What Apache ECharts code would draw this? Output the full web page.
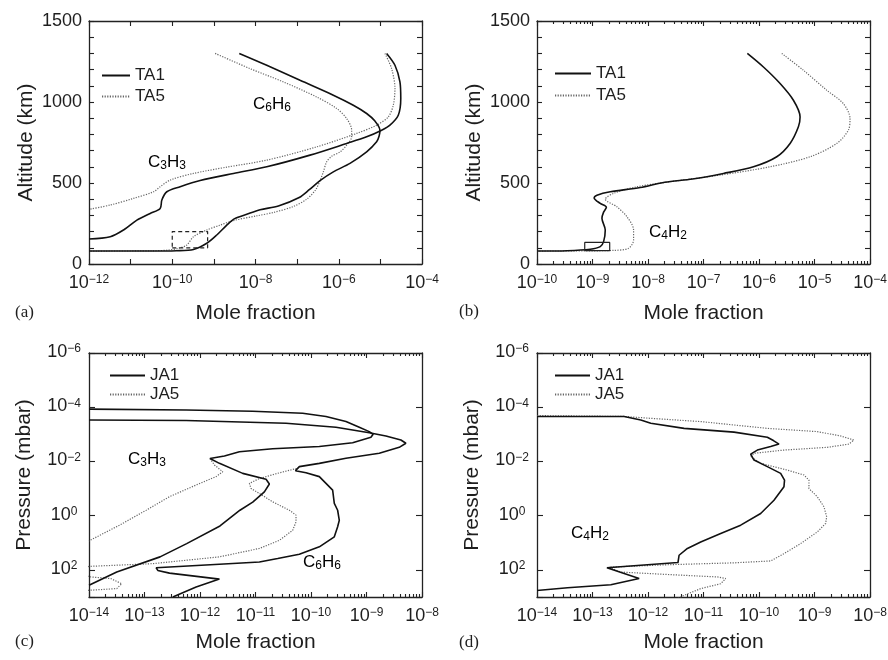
<!DOCTYPE html>
<html>
<head>
<meta charset="utf-8">
<script src="https://cdn.jsdelivr.net/npm/echarts@6/dist/echarts.min.js"></script>
<style>html,body{margin:0;background:#fff}#main{width:888px;height:660px}</style>
</head>
<body>
<div id="main"></div>
<script>
// (a), (b): [log10 mole fraction, altitude km]
var c6h6TA1 = [[-8.39,1300],[-7.73,1227],[-6.93,1134],[-6.13,1042],[-5.65,980],[-5.33,929],[-5.13,882],[-5.01,826],[-5.03,790],[-5.09,754],[-5.33,692],[-5.73,621],[-6.13,569],[-6.45,515],[-6.7,460],[-6.95,410],[-7.45,358],[-7.89,335],[-8.21,307],[-8.5,280],[-8.69,240],[-8.93,179],[-9.17,128],[-9.49,90],[-9.9,82],[-10.5,80],[-12,80]];
var c6h6TA5 = [[-8.97,1300],[-8.13,1206],[-7.33,1124],[-6.53,1031],[-6.05,960],[-5.81,898],[-5.69,826],[-5.69,785],[-5.81,734],[-5.97,692],[-6.17,665],[-6.29,631],[-6.37,569],[-6.45,515],[-6.55,460],[-6.77,400],[-7.09,355],[-7.57,318],[-7.95,298],[-8.53,268],[-8.85,240],[-9.17,210],[-9.49,168],[-9.65,117],[-9.85,97],[-10.1,86],[-10.5,81],[-12,80]];
var c3h3TA1 = [[-4.85,1300],[-4.65,1227],[-4.53,1124],[-4.51,1021],[-4.57,918],[-4.77,857],[-4.97,826],[-5.33,785],[-5.81,744],[-6.69,672],[-7.73,600],[-8.53,559],[-9.33,515],[-9.81,477],[-10.13,446],[-10.25,395],[-10.29,343],[-10.53,312],[-10.85,271],[-11.17,210],[-11.49,168],[-12,154]];
var c3h3TA5 = [[-4.89,1300],[-4.73,1206],[-4.65,1083],[-4.69,980],[-4.81,908],[-5.09,857],[-5.57,806],[-6.53,723],[-7.73,641],[-8.69,598],[-9.49,559],[-10.05,518],[-10.29,477],[-10.45,446],[-10.93,405],[-11.49,364],[-12,337]];
var boxA = [[-10,100],[-9.15,100],[-9.15,200],[-10,200],[-10,100]];

var c4h2TA1 = [[-6.21,1300],[-5.92,1216],[-5.62,1114],[-5.38,1011],[-5.26,908],[-5.29,847],[-5.44,744],[-5.68,662],[-6.1,600],[-6.64,559],[-7.2,525],[-7.7,505],[-8.14,472],[-8.68,446],[-8.92,425],[-8.97,408],[-8.86,374],[-8.75,350],[-8.8,320],[-8.83,282],[-8.77,210],[-8.8,138],[-8.86,107],[-9.04,91],[-9.46,82],[-10,80]];
var c4h2TA5 = [[-5.59,1300],[-5.2,1196],[-4.78,1073],[-4.48,990],[-4.36,898],[-4.39,826],[-4.6,744],[-5.08,662],[-5.8,600],[-6.7,549],[-7.6,508],[-8.2,477],[-8.62,436],[-8.77,400],[-8.56,353],[-8.38,292],[-8.26,210],[-8.26,148],[-8.35,97],[-8.62,84],[-9.16,81],[-10,80]];
var boxB = [[-9.14,82],[-8.69,82],[-8.69,133],[-9.14,133],[-9.14,82]];

// (c), (d): [log10 mole fraction, log10 pressure mbar]
var c3h3JA1 = [[-14,-3.93],[-12.25,-3.9],[-11.05,-3.85],[-10.15,-3.78],[-9.73,-3.66],[-9.37,-3.47],[-9.13,-3.26],[-8.95,-3.1],[-8.88,-3],[-8.92,-2.89],[-9.25,-2.69],[-9.85,-2.55],[-10.69,-2.47],[-11.29,-2.36],[-11.56,-2.2],[-11.82,-2.11],[-11.65,-1.93],[-11.23,-1.56],[-10.81,-1.34],[-10.75,-1.17],[-10.84,-0.88],[-11.05,-0.5],[-11.28,-0.2],[-11.64,0.38],[-12.24,1.03],[-12.72,1.52],[-13.5,2.08],[-14,2.57]];
var c3h3JA5 = [[-11.82,-2.11],[-11.74,-1.87],[-11.59,-1.62],[-11.71,-1.44],[-12.07,-1.13],[-12.55,-0.7],[-12.97,-0.2],[-13.45,0.35],[-14,0.93]];
var c6h6JA1 = [[-14,-3.53],[-12.25,-3.51],[-10.45,-3.41],[-9.55,-3.26],[-8.95,-3.06],[-8.65,-2.94],[-8.38,-2.79],[-8.29,-2.67],[-8.41,-2.52],[-8.77,-2.3],[-9.37,-2.12],[-9.85,-1.93],[-10.21,-1.81],[-10.28,-1.66],[-10.09,-1.58],[-9.85,-1.44],[-9.61,-0.94],[-9.58,-0.45],[-9.52,-0.2],[-9.49,0.17],[-9.52,0.41],[-9.58,0.78],[-9.85,1.15],[-10.21,1.42],[-10.6,1.58],[-10.93,1.71],[-11.65,1.79],[-12.79,1.92],[-12.76,2.02],[-12.55,2.12],[-11.65,2.34],[-12.07,2.63],[-12.49,3]];
var c6h6JA5 = [[-10.26,-1.74],[-10.57,-1.58],[-10.93,-1.37],[-11.11,-1.19],[-11.08,-1],[-10.93,-0.82],[-10.69,-0.51],[-10.39,-0.2],[-10.27,-0.02],[-10.27,0.23],[-10.33,0.54],[-10.57,0.91],[-10.93,1.21],[-11.65,1.52],[-12.85,1.77],[-13.99,1.87],[-14.4,2.05],[-13.97,2.26],[-13.61,2.32],[-13.41,2.51],[-13.5,2.69],[-13.98,2.75],[-14.4,2.8]];

var c4h2JA1 = [[-14,-3.66],[-12.43,-3.66],[-12.13,-3.53],[-11.95,-3.41],[-11.35,-3.22],[-10.45,-3.08],[-9.85,-2.89],[-9.74,-2.77],[-9.64,-2.64],[-9.79,-2.55],[-10.03,-2.42],[-10.15,-2.27],[-10.09,-2.05],[-9.85,-1.81],[-9.61,-1.56],[-9.54,-1.31],[-9.55,-1.07],[-9.73,-0.57],[-9.97,-0.08],[-10.33,0.35],[-10.69,0.66],[-11.05,0.97],[-11.29,1.21],[-11.44,1.46],[-11.46,1.73],[-12.74,1.92],[-12.16,2.32],[-12.67,2.55],[-13.45,2.66],[-14,2.76]];
var c4h2JA5 = [[-14,-3.69],[-12.43,-3.66],[-11.95,-3.59],[-11.05,-3.47],[-9.85,-3.22],[-8.95,-3.1],[-8.53,-2.94],[-8.29,-2.79],[-8.38,-2.64],[-8.77,-2.52],[-9.55,-2.42],[-10.09,-2.3],[-10.15,-2.18],[-9.97,-1.93],[-9.49,-1.68],[-9.19,-1.5],[-9.1,-1.31],[-9.1,-1],[-8.95,-0.7],[-8.83,-0.33],[-8.78,0.04],[-8.8,0.29],[-8.95,0.6],[-9.25,1.03],[-9.55,1.4],[-9.79,1.67],[-10.45,1.74],[-11.65,1.81],[-12.7,1.9],[-12.49,2.08],[-11.65,2.17],[-10.75,2.26],[-10.6,2.32],[-10.69,2.51],[-11.05,2.69],[-11.35,2.94],[-11.47,3.06]];

var FONT = 'Liberation Sans';
var INK = '#1e1e1e';

var supRich = {
  b: {fontFamily: FONT, fontSize: 18, lineHeight: 20, verticalAlign: 'top', color: INK},
  s: {fontFamily: FONT, fontSize: 12, lineHeight: 12, verticalAlign: 'top', color: INK}
};
var subRich = {
  n: {fontFamily: FONT, fontSize: 17, lineHeight: 18, verticalAlign: 'top', color: INK},
  d: {fontFamily: FONT, fontSize: 12, lineHeight: 10, verticalAlign: 'bottom', color: INK}
};
function sup(e) {
  return '{b|10}{s|' + (e < 0 ? '\u2212' : '') + Math.abs(e) + '}';
}

var panels = [
  {grid: {left: 89, top: 21, width: 333, height: 243}, x: [-12, -4], every: 2, minor: false, kind: 'alt', xGap: 39, yGap: 52, label: '(a)', lx: 15, ly: 313},
  {grid: {left: 537, top: 21, width: 333, height: 243}, x: [-10, -4], every: 1, minor: true, kind: 'alt', xGap: 39, yGap: 52, label: '(b)', lx: 459, ly: 312},
  {grid: {left: 89, top: 353, width: 333, height: 244}, x: [-14, -8], every: 1, minor: true, kind: 'p', xGap: 35, yGap: 54, label: '(c)', lx: 15, ly: 642},
  {grid: {left: 537, top: 353, width: 333, height: 244}, x: [-14, -8], every: 1, minor: true, kind: 'p', xGap: 35, yGap: 54, label: '(d)', lx: 459, ly: 643}
];

var axisLine = {show: true, onZero: false, lineStyle: {color: '#222', width: 1.3}};
var tickLine = {color: '#222', width: 1.1};
var nameStyle = {fontFamily: FONT, fontSize: 21, color: INK};

var option = {
  animation: false,
  backgroundColor: '#fff',
  grid: [], xAxis: [], yAxis: [], series: [], legend: [], graphic: []
};

panels.forEach(function (p, i) {
  option.grid.push(Object.assign({containLabel: false, outerBoundsMode: 'none'}, p.grid));
  p.xi = option.xAxis.length;
  p.yi = option.yAxis.length;

  var minorVals = [];
  for (var n = p.x[0]; n < p.x[1]; n++) {
    for (var k = 2; k <= 9; k++) minorVals.push(n + Math.log10(k));
  }

  ['bottom', 'top'].forEach(function (pos) {
    option.xAxis.push({
      type: 'value', gridIndex: i, position: pos, min: p.x[0], max: p.x[1], interval: 1,
      axisLine: axisLine,
      axisTick: {inside: true, length: 5, lineStyle: tickLine},
      axisLabel: pos === 'bottom' ? {
        margin: 10,
        rich: supRich,
        formatter: function (v) {
          var e = Math.round(v);
          if (Math.abs(v - e) > 1e-6 || (e - p.x[0]) % p.every !== 0) return '';
          return sup(e);
        }
      } : {show: false},
      splitLine: {show: false},
      name: pos === 'bottom' ? 'Mole fraction' : '',
      nameLocation: 'middle', nameGap: p.xGap,
      nameTextStyle: nameStyle
    });
  });
  if (p.minor) {
    ['bottom', 'top'].forEach(function (pos) {
      option.xAxis.push({
        type: 'value', gridIndex: i, position: pos, min: p.x[0], max: p.x[1],
        axisLine: {show: false, onZero: false},
        axisTick: {inside: true, length: 3, lineStyle: tickLine, customValues: minorVals},
        axisLabel: {show: false},
        splitLine: {show: false}
      });
    });
  }

  ['left', 'right'].forEach(function (pos) {
    var y = {
      type: 'value', gridIndex: i, position: pos,
      axisLine: axisLine,
      splitLine: {show: false},
      nameLocation: 'middle', nameGap: p.yGap,
      nameTextStyle: nameStyle
    };
    if (p.kind === 'alt') {
      y.min = 0; y.max = 1500; y.interval = 100;
      y.axisTick = {inside: true, length: 5, lineStyle: tickLine};
      y.axisLabel = pos === 'left' ? {
        margin: 7, fontFamily: FONT, fontSize: 18, color: INK,
        formatter: function (v) { return v % 500 === 0 ? String(v) : ''; }
      } : {show: false};
      y.name = pos === 'left' ? 'Altitude (km)' : '';
    } else {
      y.min = -6; y.max = 3; y.interval = 2; y.inverse = true;
      y.axisTick = {inside: true, length: 6, lineStyle: tickLine};
      y.axisLabel = pos === 'left' ? {
        margin: 25, align: 'center', rich: supRich,
        formatter: function (v) { return (v % 2 === 0 && v < 3) ? sup(v) : ''; }
      } : {show: false};
      y.name = pos === 'left' ? 'Pressure (mbar)' : '';
    }
    option.yAxis.push(y);
  });

  option.graphic.push({
    type: 'text', x: p.lx, y: p.ly,
    style: {text: p.label, font: '17px "Liberation Serif"', fill: INK, verticalAlign: 'middle'}
  });
});

function curve(name, data, pi, dotted, smooth) {
  option.series.push({
    name: name, type: 'line', data: data,
    xAxisIndex: panels[pi].xi, yAxisIndex: panels[pi].yi,
    symbol: 'none', showSymbol: false, smooth: smooth ? 0.3 : false,
    silent: true, clip: true, z: dotted ? 2 : 3,
    color: dotted ? '#666' : '#111',
    lineStyle: dotted ? {color: '#666', width: 1.2, type: [1.2, 1.4]} : {color: '#111', width: 1.6}
  });
}

curve('TA1', c6h6TA1, 0, false, true);
curve('TA5', c6h6TA5, 0, true, true);
curve('TA1', c3h3TA1, 0, false, true);
curve('TA5', c3h3TA5, 0, true, true);
option.series.push({
  type: 'line', data: boxA, xAxisIndex: panels[0].xi, yAxisIndex: panels[0].yi,
  symbol: 'none', silent: true, lineStyle: {color: '#222', width: 1.2, type: [4, 3]}
});

curve('TA1', c4h2TA1, 1, false, true);
curve('TA5', c4h2TA5, 1, true, true);
option.series.push({
  type: 'line', data: boxB, xAxisIndex: panels[1].xi, yAxisIndex: panels[1].yi,
  symbol: 'none', silent: true, lineStyle: {color: '#222', width: 1.2}
});

curve('JA1', c3h3JA1, 2, false, false);
curve('JA5', c3h3JA5, 2, true, false);
curve('JA1', c6h6JA1, 2, false, false);
curve('JA5', c6h6JA5, 2, true, false);

curve('JA1', c4h2JA1, 3, false, false);
curve('JA5', c4h2JA5, 3, true, false);

function legendAt(left, top, w, gap, lh, names) {
  return {
    left: left, top: top, orient: 'vertical', padding: 0,
    itemWidth: w, itemHeight: 12, itemGap: gap, selectedMode: false,
    itemStyle: {opacity: 0, borderWidth: 0},
    textStyle: {fontFamily: FONT, fontSize: 17, color: INK, lineHeight: lh},
    data: names
  };
}
option.legend = [
  legendAt(101, 66, 28, 2, 19, ['TA1', 'TA5']),
  legendAt(554, 64, 36, 3, 19, ['TA1', 'TA5']),
  legendAt(109, 367, 35, 2, 16, ['JA1', 'JA5']),
  legendAt(554, 367, 35, 2, 16, ['JA1', 'JA5'])
];

// species labels
[
  ['{n|C}{d|6}{n|H}{d|6}', 253, 105],
  ['{n|C}{d|3}{n|H}{d|3}', 148, 163],
  ['{n|C}{d|4}{n|H}{d|2}', 649, 233],
  ['{n|C}{d|3}{n|H}{d|3}', 128, 460],
  ['{n|C}{d|6}{n|H}{d|6}', 303, 563],
  ['{n|C}{d|4}{n|H}{d|2}', 571, 534]
].forEach(function (t) {
  option.graphic.push({
    type: 'text', x: t[1], y: t[2],
    style: {text: t[0], rich: subRich, verticalAlign: 'middle', align: 'left'}
  });
});

var chart = echarts.init(document.getElementById('main'));
chart.setOption(option);
</script>
</body>
</html>
